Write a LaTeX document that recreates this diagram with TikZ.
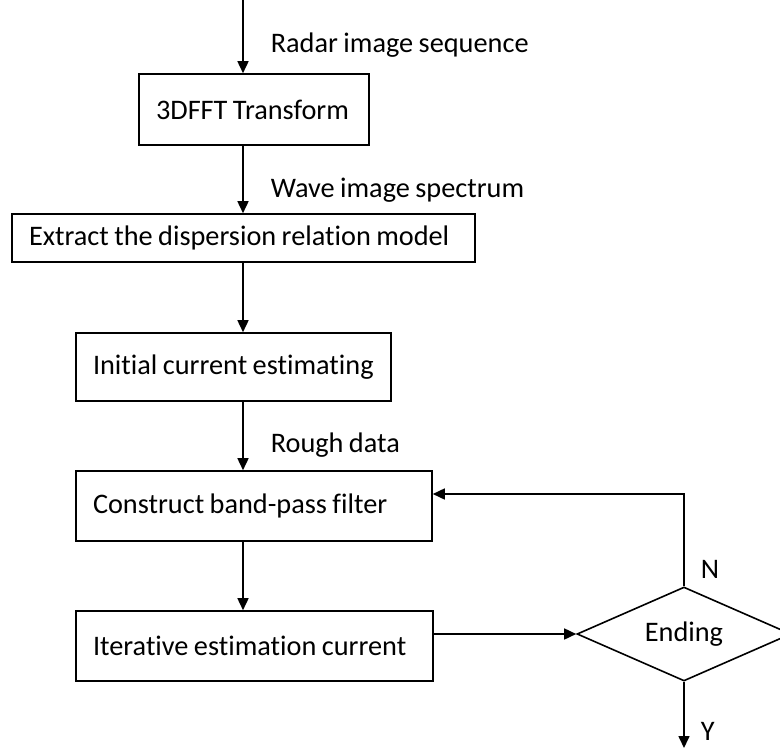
\documentclass[tikz,border=0pt]{standalone}
\usepackage{fontspec}
\setmainfont{Carlito}[WordSpace=0.85,Ligatures=NoCommon]
\usetikzlibrary{arrows.meta,shapes.geometric}
\newcommand{\lefttxt}[2]{\makebox[#1][l]{#2}}
\begin{document}
\begin{tikzpicture}[x=1pt,y=-1pt,
  font=\fontsize{28.3}{32}\selectfont,
  line width=1.6pt,
  arr/.style={-{Triangle[length=12pt,width=11pt]}},
  procbox/.style={draw,rectangle,inner xsep=17pt,inner ysep=0pt},
  lbl/.style={anchor=west,inner sep=0pt},
  decide/.style={draw,diamond,inner sep=0pt,minimum width=214pt,minimum height=94pt,aspect=2.28}
]
\useasboundingbox (0,0) rectangle (780,750);
\coordinate (start) at (243,0);
\node[procbox,minimum height=71pt] (fft) at (254,109.5) {\lefttxt{196pt}{3DFFT Transform}};
\node[procbox,minimum height=48pt] (disp) at (243.5,238) {\lefttxt{429pt}{Extract the dispersion relation model}};
\node[procbox,minimum height=68pt] (init) at (233.5,367) {\lefttxt{281pt}{Initial current estimating}};
\node[procbox,minimum height=70pt] (band) at (254,506) {\lefttxt{322pt}{Construct band-pass filter}};
\node[procbox,minimum height=70pt] (iter) at (254.5,646) {\lefttxt{323pt}{Iterative estimation current}};
\node[decide] (end) at (684,634) {Ending};
\coordinate (corner) at (684,494);
\coordinate (yend) at (684,748);

\node[lbl] (lradar) at (270,45) {Radar image sequence};
\node[lbl] (lwave) at (270,190) {Wave image spectrum};
\node[lbl] (lrough) at (270,445) {Rough data};
\node[lbl] (lN) at (700,569) {N};
\node[lbl] (lY) at (700,731) {Y};

\draw[arr] (start) -- (fft.north -| start);
\draw[arr] (fft.south -| start) -- (disp.north -| start);
\draw[arr] (disp.south -| start) -- (init.north -| start);
\draw[arr] (init.south -| start) -- (band.north -| start);
\draw[arr] (band.south -| start) -- (iter.north -| start);
\draw[arr] (iter.east |- end.west) -- (end.west);
\draw[arr] (end.north) -- (corner) -- (corner -| band.east);
\draw[arr] (end.south) -- (yend);
\end{tikzpicture}
\end{document}
